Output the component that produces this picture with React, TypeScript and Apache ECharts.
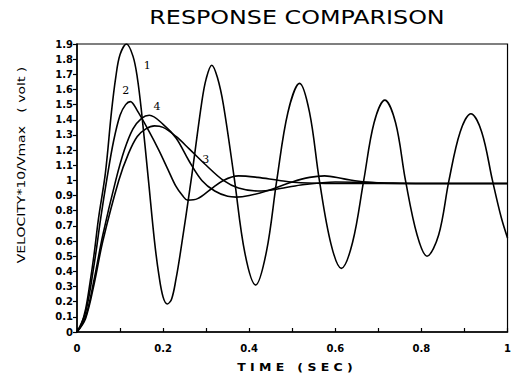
import React, { useEffect, useRef } from "react";
import * as echarts from "echarts";

const titleText = "RESPONSE COMPARISON";
const xAxisTitle = "T I M E   ( S E C )";
const yAxisTitle = "VELOCITY*10/Vmax   ( volt )";

// [time, value]
const curve1: [number, number][] = [
  [0, 0], [0.01, 0.05], [0.02, 0.15], [0.03, 0.32], [0.04, 0.52], [0.05, 0.75],
  [0.066, 1.05], [0.08, 1.45], [0.09, 1.68], [0.1, 1.83], [0.115, 1.9], [0.13, 1.82],
  [0.14, 1.68], [0.15, 1.45], [0.166, 1.0], [0.18, 0.6], [0.19, 0.38], [0.2, 0.23],
  [0.21, 0.185], [0.22, 0.22], [0.23, 0.35], [0.24, 0.52], [0.265, 1.0], [0.29, 1.52],
  [0.3, 1.67], [0.313, 1.76], [0.326, 1.68], [0.34, 1.5], [0.365, 1.02], [0.39, 0.52],
  [0.415, 0.31], [0.44, 0.53], [0.464, 1.0], [0.49, 1.45], [0.517, 1.64], [0.54, 1.45],
  [0.563, 1.0], [0.59, 0.58], [0.614, 0.42], [0.64, 0.59], [0.666, 1.0], [0.69, 1.38],
  [0.715, 1.53], [0.74, 1.38], [0.763, 1.0], [0.79, 0.64], [0.813, 0.5], [0.84, 0.64],
  [0.864, 1.0], [0.89, 1.32], [0.915, 1.44], [0.94, 1.32], [0.965, 1.0], [0.985, 0.76],
  [1.0, 0.62],
];

const curve2: [number, number][] = [
  [0, 0], [0.02, 0.13], [0.04, 0.45], [0.055, 0.75], [0.07, 1.02], [0.085, 1.26],
  [0.1, 1.43], [0.113, 1.5], [0.124, 1.52], [0.14, 1.46], [0.168, 1.32], [0.19, 1.2],
  [0.21, 1.08], [0.23, 0.96], [0.245, 0.9], [0.257, 0.87], [0.28, 0.88], [0.31, 0.94],
  [0.34, 1.0], [0.375, 1.03], [0.42, 1.02], [0.47, 1.0], [0.52, 0.985], [0.6, 0.98],
  [0.7, 0.98], [0.8, 0.98], [0.9, 0.98], [1.0, 0.98],
];

const curve3: [number, number][] = [
  [0, 0], [0.02, 0.09], [0.04, 0.32], [0.06, 0.6], [0.097, 1.0], [0.12, 1.18],
  [0.14, 1.29], [0.16, 1.34], [0.18, 1.36], [0.2, 1.35], [0.23, 1.29], [0.26, 1.21],
  [0.3, 1.1], [0.34, 1.0], [0.375, 0.95], [0.42, 0.93], [0.46, 0.94], [0.52, 0.97],
  [0.6, 0.99], [0.7, 0.985], [0.8, 0.98], [1.0, 0.98],
];

const curve4: [number, number][] = [
  [0, 0], [0.02, 0.1], [0.04, 0.35], [0.06, 0.64], [0.09, 1.0], [0.11, 1.2],
  [0.13, 1.34], [0.15, 1.41], [0.168, 1.43], [0.2, 1.37], [0.23, 1.28], [0.26, 1.13],
  [0.29, 1.0], [0.32, 0.93], [0.35, 0.895], [0.37, 0.89], [0.4, 0.9], [0.44, 0.93],
  [0.5, 0.99], [0.54, 1.02], [0.575, 1.03], [0.62, 1.01], [0.67, 0.99], [0.75, 0.98],
  [1.0, 0.98],
];

const curveLabels = ["1", "2", "3", "4"];
const labelCoords: [number, number][] = [
  [0.163, 1.755], [0.113, 1.59], [0.299, 1.14], [0.186, 1.49],
];

export default function App() {
  const ref = useRef<HTMLDivElement>(null);
  useEffect(() => {
    if (!ref.current) return;
    const chart = echarts.init(ref.current, null, { renderer: "svg" });
    const curves = [curve1, curve2, curve3, curve4];
    const series: any[] = curves.map((c, i) => ({
      type: "line",
      data: c,
      smooth: 0.35,
      showSymbol: false,
      color: "#000",
      itemStyle: { color: "#000" },
      lineStyle: { color: "#000", width: 1.6 },
      markPoint: {
        symbol: "circle",
        symbolSize: 1,
        itemStyle: { color: "rgba(0,0,0,0)" },
        label: {
          show: true,
          position: "inside",
          color: "#000",
          textBorderWidth: 0,
          fontSize: 11,
          fontFamily: "DejaVu Serif",
          formatter: curveLabels[i],
        },
        data: [{ coord: labelCoords[i] }],
      },
    }));
    chart.setOption({
      animation: false,
      backgroundColor: "#fff",
      color: ["#000"],
      grid: {
        left: 77,
        right: 2,
        top: 44,
        bottom: 47,
        show: true,
        borderColor: "#000",
        borderWidth: 1.2,
      },
      xAxis: {
        type: "value",
        min: 0,
        max: 1,
        interval: 0.1,
        axisLine: { show: true, lineStyle: { color: "#000", width: 1.5 } },
        axisTick: { show: true, inside: true, length: 4, lineStyle: { color: "#000", width: 1.2 } },
        splitLine: { show: false },
        axisLabel: {
          color: "#000",
          fontSize: 10,
          fontWeight: "bold",
          fontFamily: "DejaVu Sans",
          margin: 11,
          formatter: (v: number) => (Math.round(v * 10) % 2 === 0 ? String(+v.toFixed(1)) : ""),
        },
      },
      yAxis: {
        type: "value",
        min: 0,
        max: 1.9,
        interval: 0.1,
        axisLine: { show: true, lineStyle: { color: "#000", width: 1.5 } },
        axisTick: { show: true, inside: false, length: 4, lineStyle: { color: "#000", width: 1.2 } },
        splitLine: { show: false },
        axisLabel: {
          color: "#000",
          fontSize: 10,
          fontWeight: "bold",
          fontFamily: "DejaVu Sans",
          margin: 4,
          formatter: (v: number) => String(+v.toFixed(1)),
        },
      },
      graphic: [
        {
          type: "text",
          x: 297,
          y: 17,
          scaleX: 1.19,
          style: {
            text: titleText,
            fill: "#000",
            fontSize: 20,
            fontFamily: "DejaVu Sans",
            align: "center",
            verticalAlign: "middle",
          },
        },
        {
          type: "text",
          x: 295,
          y: 368,
          scaleX: 1.25,
          style: {
            text: xAxisTitle,
            fill: "#000",
            fontSize: 10,
            fontWeight: "bold",
            fontFamily: "DejaVu Sans",
            align: "center",
            verticalAlign: "middle",
          },
        },
        {
          type: "text",
          x: 22,
          y: 165,
          rotation: Math.PI / 2,
          scaleX: 1.4,
          style: {
            text: yAxisTitle,
            fill: "#000",
            fontSize: 10,
            fontFamily: "DejaVu Sans",
            align: "center",
            verticalAlign: "middle",
          },
        },
      ],
      series,
    });
    return () => chart.dispose();
  }, []);
  return (
    <div
      ref={ref}
      style={{ position: "fixed", left: 0, top: 0, width: 514, height: 379 }}
    />
  );
}
